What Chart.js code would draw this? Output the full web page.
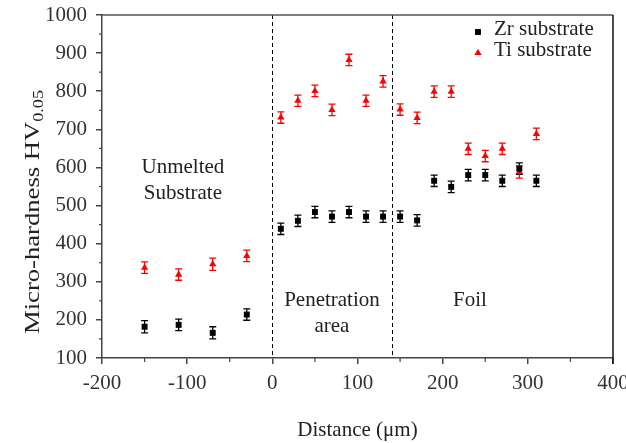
<!DOCTYPE html>
<html>
<head>
<meta charset="utf-8">
<script src="https://cdn.jsdelivr.net/npm/chart.js@4/dist/chart.umd.min.js"></script>
<style>
  html, body { margin: 0; padding: 0; background: #fff; }
  #wrap { width: 626px; height: 443px; }
</style>
</head>
<body>
<div id="wrap"><canvas id="hardness-chart"></canvas></div>
<script>
// values
const distance = [-150, -110, -70, -30, 10, 30, 50, 70, 90, 110, 130, 150, 170, 190, 210, 230, 250, 270, 290, 310];
const zrHardness = [182, 187, 166, 214, 439, 460, 483, 471, 483, 471, 471, 471, 461, 565, 549, 580, 580, 565, 597, 565];
const tiHardness = [337, 319, 346, 368, 731, 775, 801, 751, 882, 775, 826, 752, 730, 799, 799, 649, 630, 649, 588, 688];
const zrError = [16, 15, 16, 15, 15, 15, 15, 15, 15, 15, 15, 15, 15, 15, 15, 15, 15, 15, 15, 15];
const tiError = [15, 15, 16, 15, 15, 15, 15, 15, 15, 15, 15, 15, 15, 15, 15, 15, 15, 15, 16, 15];
const zoneBounds = [0, 140];
const zoneLabels = [
  { x: -105, y: 601, lines: ['Unmelted', 'Substrate'] },
  { x: 70, y: 252, lines: ['Penetration', 'area'] },
  { x: 232, y: 252, lines: ['Foil'] }
];

const serif = "'Liberation Serif', 'Times New Roman', serif";

function toPoints(xs, ys) {
  return xs.map((x, i) => ({ x: x, y: ys[i] }));
}

const extras = {
  id: 'extras',
  beforeDatasetsDraw(chart) {
    const ctx = chart.ctx;
    const yScale = chart.scales.y;
    chart.data.datasets.forEach((ds, di) => {
      const meta = chart.getDatasetMeta(di);
      ctx.save();
      ctx.strokeStyle = ds.backgroundColor;
      ctx.lineWidth = 1.3;
      meta.data.forEach((pt, i) => {
        const v = ds.data[i].y;
        const top = yScale.getPixelForValue(v + ds.errors[i]);
        const bot = yScale.getPixelForValue(v - ds.errors[i]);
        ctx.beginPath();
        ctx.moveTo(pt.x, top); ctx.lineTo(pt.x, bot);
        ctx.moveTo(pt.x - 3.5, top); ctx.lineTo(pt.x + 3.5, top);
        ctx.moveTo(pt.x - 3.5, bot); ctx.lineTo(pt.x + 3.5, bot);
        ctx.stroke();
      });
      ctx.restore();
    });
  },
  afterDraw(chart) {
    const ctx = chart.ctx;
    const a = chart.chartArea;
    const xs = chart.scales.x, ys = chart.scales.y;
    ctx.save();

    // zone boundaries
    ctx.strokeStyle = '#000';
    ctx.lineWidth = 1;
    ctx.setLineDash([4, 3]);
    zoneBounds.forEach(b => {
      const px = Math.round(xs.getPixelForValue(b)) + 0.5;
      ctx.beginPath(); ctx.moveTo(px, a.top); ctx.lineTo(px, a.bottom); ctx.stroke();
    });
    ctx.setLineDash([]);

    // top and right frame
    ctx.strokeStyle = '#555';
    ctx.lineWidth = 1.5;
    ctx.beginPath(); ctx.moveTo(a.left, a.top); ctx.lineTo(a.right, a.top); ctx.stroke();
    ctx.strokeStyle = '#111';
    ctx.beginPath(); ctx.moveTo(a.right, a.top); ctx.lineTo(a.right, a.bottom + 6); ctx.stroke();

    // minor ticks
    ctx.strokeStyle = '#444';
    ctx.lineWidth = 1.2;
    for (let v = -150; v < 400; v += 100) {
      const px = xs.getPixelForValue(v);
      ctx.beginPath(); ctx.moveTo(px, a.bottom); ctx.lineTo(px, a.bottom + 4); ctx.stroke();
    }
    for (let v = 150; v < 1000; v += 100) {
      const py = ys.getPixelForValue(v);
      ctx.beginPath(); ctx.moveTo(a.left, py); ctx.lineTo(a.left - 3, py); ctx.stroke();
    }

    // zone labels
    ctx.fillStyle = '#222';
    ctx.font = '21px ' + serif;
    ctx.textAlign = 'center';
    ctx.textBaseline = 'middle';
    zoneLabels.forEach(z => {
      const px = xs.getPixelForValue(z.x);
      const py = ys.getPixelForValue(z.y);
      z.lines.forEach((t, i) => ctx.fillText(t, px, py + i * 26));
    });

    // legend
    ctx.textAlign = 'left';
    chart.data.datasets.forEach((ds, i) => {
      const ly = 30 + i * 21;
      ctx.fillStyle = ds.backgroundColor;
      ctx.strokeStyle = ds.backgroundColor;
      Chart.helpers.drawPoint(ctx, { pointStyle: ds.pointStyle, radius: ds.pointRadius, rotation: 0, borderWidth: 0 }, 478, ly + 2);
      ctx.fillStyle = '#222';
      ctx.fillText(ds.label, 494, ly - 1);
    });

    // y title with subscript, stretched along its length like the original
    const main = 'Micro-hardness HV', sub = '0.05';
    ctx.font = '22px ' + serif;
    const wMain = ctx.measureText(main).width;
    ctx.font = '15px ' + serif;
    const wSub = ctx.measureText(sub).width;
    const stretch = 244 / (wMain + wSub);
    ctx.translate(31, 212);
    ctx.rotate(-Math.PI / 2);
    ctx.scale(stretch, 1);
    ctx.textBaseline = 'alphabetic';
    const start = -(wMain + wSub) / 2;
    ctx.font = '22px ' + serif;
    ctx.fillText(main, start, 8);
    ctx.font = '15px ' + serif;
    ctx.fillText(sub, start + wMain, 12);
    ctx.restore();
  }
};

const ctxHardness = document.getElementById('hardness-chart').getContext('2d');

new Chart(ctxHardness, {
  type: 'scatter',
  data: {
    datasets: [{
      label: 'Zr substrate',
      data: toPoints(distance, zrHardness),
      errors: zrError,
      backgroundColor: '#000',
      borderColor: '#000',
      pointStyle: 'rect',
      pointRadius: 4.2,
      pointBorderWidth: 0
    }, {
      label: 'Ti substrate',
      data: toPoints(distance, tiHardness),
      errors: tiError,
      backgroundColor: '#ff0000',
      borderColor: '#ff0000',
      pointStyle: 'triangle',
      pointRadius: 4.2,
      pointBorderWidth: 0
    }]
  },
  options: {
    responsive: true,
    maintainAspectRatio: false,
    animation: false,
    layout: { padding: { top: 15, right: 13, left: 0, bottom: 0 } },
    plugins: {
      legend: { display: false },
      tooltip: { enabled: false }
    },
    scales: {
      x: {
        type: 'linear',
        min: -200,
        max: 400,
        ticks: { stepSize: 100, color: '#333', padding: 7, font: { family: serif, size: 21 }, callback: v => String(v) },
        grid: { drawOnChartArea: false, drawTicks: true, tickLength: 6, color: '#444', lineWidth: 1.5 },
        border: { color: '#444', width: 1.5 },
        title: {
          display: true,
          text: 'Distance (μm)',
          color: '#222',
          font: { family: serif, size: 21 },
          padding: { top: 14, bottom: 0 }
        },
        afterFit(scale) { scale.height = 85; scale.paddingRight = 0; scale.paddingLeft = 0; }
      },
      y: {
        min: 100,
        max: 1000,
        ticks: { stepSize: 100, color: '#333', padding: 9, font: { family: serif, size: 21 }, callback: v => String(v) },
        grid: { drawOnChartArea: false, drawTicks: true, tickLength: 6, color: '#444', lineWidth: 1.5 },
        border: { color: '#444', width: 1.5 },
        afterFit(scale) { scale.width = 102; scale.paddingTop = 0; scale.paddingBottom = 0; }
      }
    }
  },
  plugins: [extras]
});
</script>
</body>
</html>
